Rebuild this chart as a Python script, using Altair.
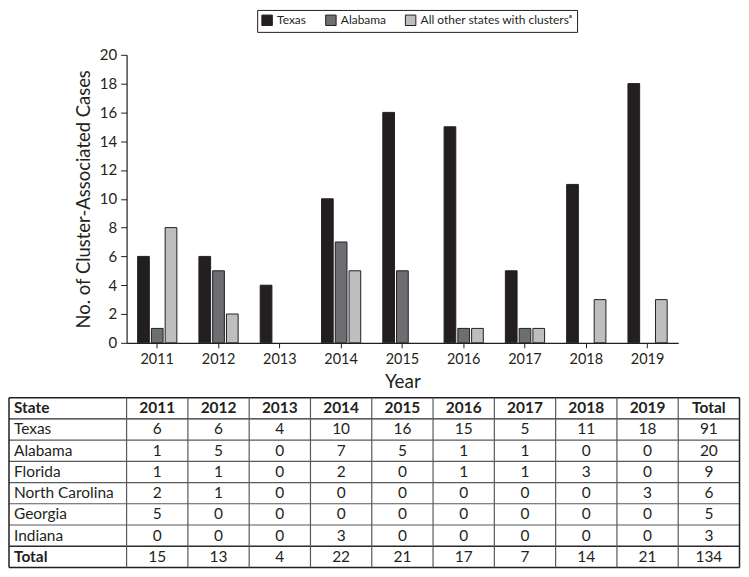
import altair as alt
import pandas as pd

# ---------------- data ----------------
years = [2011, 2012, 2013, 2014, 2015, 2016, 2017, 2018, 2019]
states = ["Texas", "Alabama", "Florida", "North Carolina", "Georgia", "Indiana"]
texas = [6, 6, 4, 10, 16, 15, 5, 11, 18]
alabama = [1, 5, 0, 7, 5, 1, 1, 0, 0]
florida = [1, 1, 0, 2, 0, 1, 1, 3, 0]
north_carolina = [2, 1, 0, 0, 0, 0, 0, 0, 3]
georgia = [5, 0, 0, 0, 0, 0, 0, 0, 0]
indiana = [0, 0, 0, 3, 0, 0, 0, 0, 0]
state_counts = [texas, alabama, florida, north_carolina, georgia, indiana]

series_names = ["Texas", "Alabama", "All other states with clusters\u1d43"]
series_colors = ["#231f20", "#6d6e71", "#bcbec0"]
other_states = [sum(v) for v in zip(florida, north_carolina, georgia, indiana)]
series_values = [texas, alabama, other_states]

y_ticks = [0, 2, 4, 6, 8, 10, 12, 14, 16, 18, 20]
table_header = ["State"] + [str(y) for y in years] + ["Total"]

# ---------------- layout constants ----------------
FONT = "Lato"
INK = "#231f20"
STEP = 61.5
PLOT_W = STEP * len(years)
PLOT_H = 289
STATE_W = 118
ROW_H = 21.3
TABLE_TOP = PLOT_H + 55
N_ROWS = len(states) + 2
N_COLS = len(years) + 1

# ---------------- bar data ----------------
bar_rows = []
for s, vals in zip(series_names, series_values):
    for y, v in zip(years, vals):
        bar_rows.append({"Year": str(y), "Series": s, "Cases": v})
bars_df = pd.DataFrame(bar_rows)

bars = alt.Chart(bars_df).transform_filter(
    alt.datum.Cases > 0
).mark_bar(stroke=INK, strokeWidth=1).encode(
    x=alt.X(
        "Year:N",
        sort=[str(y) for y in years],
        scale=alt.Scale(domain=[str(y) for y in years], paddingInner=0.36, paddingOuter=0.18),
        axis=alt.Axis(title="Year", labelAngle=0, tickSize=5, labelPadding=5,
                      labelFontSize=14.5, titleFontSize=19, titlePadding=6),
    ),
    xOffset=alt.XOffset("Series:N", sort=series_names,
                        scale=alt.Scale(domain=series_names, paddingInner=0.15, paddingOuter=0)),
    y=alt.Y(
        "Cases:Q",
        scale=alt.Scale(domain=[0, 20], nice=False),
        axis=alt.Axis(title="No. of Cluster-Associated Cases", values=y_ticks, grid=False,
                      tickSize=6, labelPadding=4, labelFontSize=15, titleFontSize=18.5,
                      titlePadding=6),
    ),
    color=alt.Color(
        "Series:N",
        sort=series_names,
        scale=alt.Scale(domain=series_names, range=series_colors),
        legend=alt.Legend(
            title=None, orient="none", legendX=131, legendY=-45, direction="horizontal",
            symbolType="square", symbolSize=110, symbolStrokeColor=INK, symbolStrokeWidth=1,
            symbolOpacity=1, labelFont=FONT, labelFontSize=12, labelColor=INK,
            strokeColor=INK, fillColor="white", padding=4, columnPadding=16, labelOffset=4,
        ),
    ),
)

# ---------------- table data ----------------
name_x = -STATE_W / STEP
cells = []


def add(r, c, text, kind):
    x = name_x if c == 0 else (c - 1) + 0.5
    cells.append({"cx": x, "cy": r + 0.5, "label": text, "kind": kind})


for c, h in enumerate(table_header):
    add(0, c, h, "head_name" if c == 0 else "head_num")
for i, (s, vals) in enumerate(zip(states, state_counts)):
    r = i + 1
    add(r, 0, s, "name")
    for c, v in enumerate(vals):
        add(r, c + 1, str(v), "num")
    add(r, N_COLS, str(sum(vals)), "num")
col_totals = [sum(v) for v in zip(*state_counts)]
add(N_ROWS - 1, 0, "Total", "total_name")
for c, v in enumerate(col_totals):
    add(N_ROWS - 1, c + 1, str(v), "num")
add(N_ROWS - 1, N_COLS, str(sum(col_totals)), "num")
cells_df = pd.DataFrame(cells)

tx = alt.Scale(domain=[name_x, N_COLS], range=[-STATE_W, N_COLS * STEP], nice=False, zero=False)
ty = alt.Scale(domain=[0, N_ROWS], range=[TABLE_TOP, TABLE_TOP + N_ROWS * ROW_H], nice=False, zero=False)


def text_layer(kinds, align, weight, dx):
    return alt.Chart(cells_df).transform_filter(
        alt.FieldOneOfPredicate(field="kind", oneOf=kinds)
    ).mark_text(
        align=align, baseline="middle", font=FONT, fontSize=15.5, fontWeight=weight,
        color=INK, dx=dx,
    ).encode(
        x=alt.X("cx:Q", scale=tx, axis=None),
        y=alt.Y("cy:Q", scale=ty, axis=None),
        text="label:N",
    )


texts = [
    text_layer(["head_name", "total_name"], "left", "bold", 5),
    text_layer(["name"], "left", "normal", 5),
    text_layer(["head_num"], "center", "bold", 0),
    text_layer(["num"], "center", "normal", 0),
]

# grid lines
h_rows = []
for r in range(N_ROWS + 1):
    kind = "outer" if r in (0, N_ROWS) else ("strong" if r in (1, N_ROWS - 1) else "inner")
    h_rows.append({"y": r, "x1": name_x, "x2": N_COLS, "kind": kind})
v_rows = []
for c in [name_x] + list(range(0, N_COLS + 1)):
    kind = "outer" if c in (name_x, N_COLS) else "inner"
    v_rows.append({"x": c, "y1": 0, "y2": N_ROWS, "kind": kind})
h_df = pd.DataFrame(h_rows)
v_df = pd.DataFrame(v_rows)

line_w = alt.Scale(domain=["outer", "strong", "inner"], range=[1.5, 1.2, 0.9])
line_c = alt.Scale(domain=["outer", "strong", "inner"], range=[INK, "#2b2b2b", "#58595b"])

hrules = alt.Chart(h_df).mark_rule().encode(
    x=alt.X("x1:Q", scale=tx, axis=None),
    x2="x2:Q",
    y=alt.Y("y:Q", scale=ty, axis=None),
    strokeWidth=alt.StrokeWidth("kind:N", scale=line_w, legend=None),
    color=alt.Color("kind:N", scale=line_c, legend=None),
)
vrules = alt.Chart(v_df).mark_rule().encode(
    x=alt.X("x:Q", scale=tx, axis=None),
    y=alt.Y("y1:Q", scale=ty, axis=None),
    y2="y2:Q",
    strokeWidth=alt.StrokeWidth("kind:N", scale=line_w, legend=None),
    color=alt.Color("kind:N", scale=line_c, legend=None),
)

chart = alt.layer(bars, *texts, hrules, vrules).resolve_scale(
    x="independent", y="independent", color="independent", strokeWidth="independent"
).properties(
    width=PLOT_W, height=PLOT_H, padding=0
).configure_view(
    stroke=None
).configure_axis(
    labelFont=FONT, titleFont=FONT, labelColor=INK, titleColor=INK,
    domainColor=INK, tickColor=INK, titleFontWeight="normal", domainWidth=1.2,
)

chart.save("out.html", embed_options={"renderer": "svg", "actions": False})
